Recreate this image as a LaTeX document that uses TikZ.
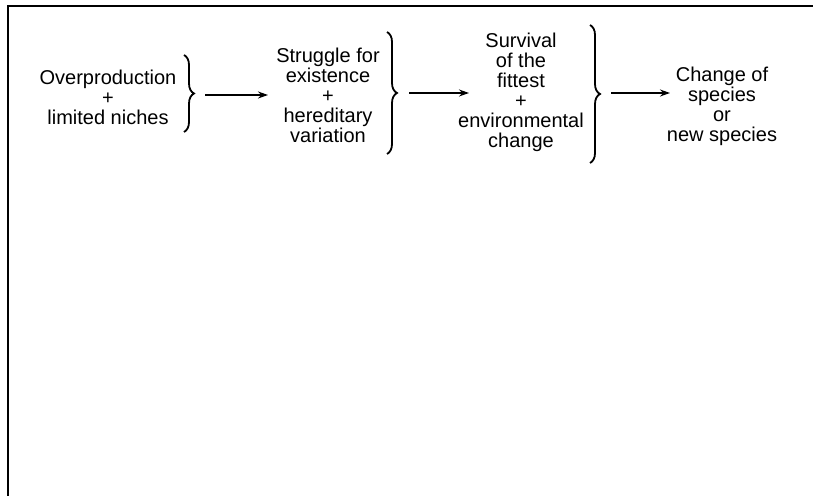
\documentclass[tikz,border=0pt]{standalone}
\usepackage{fontspec}
\setmainfont{Liberation Sans}
\usetikzlibrary{decorations.pathreplacing,arrows.meta}

\begin{document}
\begin{tikzpicture}[x=0.5pt,y=-0.5pt,
        stage/.style={align=center, inner sep=0pt, font={\fontsize{10}{10}\selectfont}},
        curly/.style={decorate, decoration={brace, amplitude=5pt}, line width=0.9pt},
        link/.style={-{Stealth[length=5pt,width=3.5pt]}, line width=0.7pt}]
    \useasboundingbox (0,0) rectangle (813,496);
    \draw[line width=1pt] (8,496) -- (8,6) -- (813,6);

    % the four stages
    \node[stage] (over) at (108,97) {Overproduction\\+\\limited niches};
    \node[stage] (strug) at (328,95) {Struggle for\\existence\\+\\hereditary\\variation};
    \node[stage] (surv) at (521,92) {Survival\\of the\\fittest\\+\\environmental\\change};
    \node[stage] (chg) at (722,106) {Change of\\species\\or\\new species};

    % braces
    \coordinate (b1t) at (184,55);  \coordinate (b1b) at (184,132);
    \coordinate (b2t) at (387,32);  \coordinate (b2b) at (387,154);
    \coordinate (b3t) at (590,25);  \coordinate (b3b) at (590,163);
    \draw[curly] (b1t) -- (b1b);
    \draw[curly] (b2t) -- (b2b);
    \draw[curly] (b3t) -- (b3b);

    % arrows
    \coordinate (a1s) at (205,95);  \coordinate (a1e) at (268,95);
    \coordinate (a2s) at (409,93);  \coordinate (a2e) at (469,93);
    \coordinate (a3s) at (611,93);  \coordinate (a3e) at (670,93);
    \draw[link] (a1s) -- (a1e);
    \draw[link] (a2s) -- (a2e);
    \draw[link] (a3s) -- (a3e);
\end{tikzpicture}
\end{document}
